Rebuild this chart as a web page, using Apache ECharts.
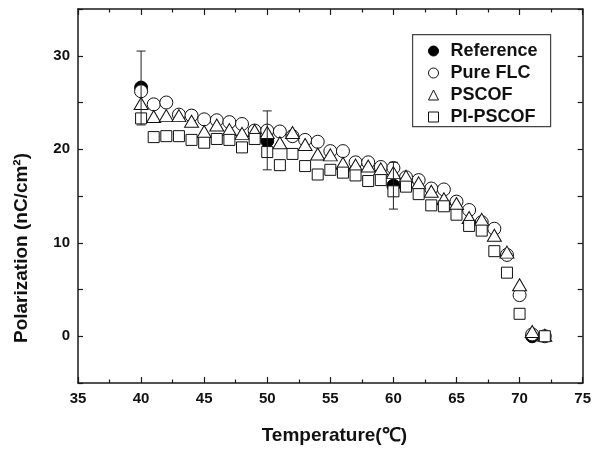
<!DOCTYPE html>
<html>
<head>
<meta charset="utf-8">
<script src="https://cdn.jsdelivr.net/npm/echarts@6/dist/echarts.min.js"></script>
<style>html,body{margin:0;padding:0;background:#fff}#c{width:594px;height:450px}</style>
</head>
<body>
<div id="c"></div>
<script>
const temps = [40,41,42,43,44,45,46,47,48,49,50,51,52,53,54,55,56,57,58,59,60,61,62,63,64,65,66,67,68,69,70,71,72];
const pureFLC = [26.2,24.8,25.0,23.7,23.6,23.2,23.1,22.9,22.7,22.0,22.0,21.9,21.4,21.0,20.8,19.8,19.8,18.6,18.6,18.1,18.0,17.0,16.7,15.8,15.7,14.4,13.5,12.2,11.5,8.7,4.4,0.2,0.0];
const pscof = [24.9,23.5,23.6,23.6,23.0,21.9,22.6,22.1,21.7,22.0,21.8,20.7,21.8,20.5,19.5,19.4,18.5,18.3,18.2,17.9,17.5,17.1,16.4,15.5,14.7,14.2,12.7,12.5,10.8,9.0,5.5,0.5,0.1];
const piPscof = [23.3,21.3,21.4,21.4,21.0,20.7,21.1,21.0,20.2,21.1,19.7,18.3,19.5,18.2,17.3,17.8,17.5,17.2,16.6,16.7,15.5,16.0,15.2,14.0,13.9,13.0,11.8,11.3,9.1,6.8,2.4,null,0.0];
const refTemps = [40,50,60,71];
const refValues = [26.6,20.9,16.1,0.0];
const refLow = [22.6,17.8,13.6,null];
const refHigh = [30.5,24.1,18.6,null];
const xTicks = [35,40,45,50,55,60,65,70,75];
const yTicks = [0,10,20,30];
const yTitle = 'Polarization (nC/cm²)';
const xTitle = 'Temperature(℃)';

const pair = (xs, ys) => xs.map((x, i) => [x, ys[i]]).filter(p => p[1] !== null);
const errData = refTemps.map((t, i) => [t, refLow[i], refHigh[i]]).filter(d => d[1] !== null);

const font = 'Liberation Sans, Arial, sans-serif';
const lineCol = '#1a1a1a';
const hollow = {color: '#fff', borderColor: '#111', borderWidth: 1, opacity: 1};

const chart = echarts.init(document.getElementById('c'), null, {renderer: 'canvas'});
const baseX = {
  type: 'value', min: 35, max: 75, interval: 5,
  axisLine: {onZero: false, lineStyle: {color: lineCol, width: 1.5}},
  axisTick: {inside: true, length: 6, lineStyle: {color: lineCol, width: 1.2}},
  minorTick: {show: true, splitNumber: 2, length: 3.5, lineStyle: {color: lineCol, width: 1.2}},
  splitLine: {show: false}
};
const baseY = {
  type: 'value', min: -5, max: 35, interval: 5,
  axisLine: {onZero: false, lineStyle: {color: lineCol, width: 1.5}},
  axisTick: {inside: true, length: 5, lineStyle: {color: lineCol, width: 1.2}},
  splitLine: {show: false}
};
chart.setOption({
  animation: false,
  backgroundColor: '#fff',
  grid: {left: 78, right: 9, top: 9, bottom: 66, containLabel: false},
  xAxis: [
    Object.assign({}, baseX, {
      position: 'bottom',
      name: xTitle, nameLocation: 'middle', nameGap: 43,
      nameTextStyle: {fontFamily: font, fontWeight: 'bold', fontSize: 19, color: '#111', padding: [0, 0, 0, 8]},
      axisLabel: {margin: 8, fontFamily: font, fontWeight: 'bold', fontSize: 15, color: '#111',
        formatter: v => xTicks.includes(v) ? String(v) : ''}
    }),
    Object.assign({}, baseX, {position: 'top', axisLabel: {show: false}})
  ],
  yAxis: [
    Object.assign({}, baseY, {
      position: 'left',
      axisLabel: {margin: 8, fontFamily: font, fontWeight: 'bold', fontSize: 15, color: '#111',
        formatter: v => yTicks.includes(v) ? String(v) : ''}
    }),
    Object.assign({}, baseY, {position: 'right', axisLabel: {show: false}})
  ],
  legend: {
    orient: 'vertical', left: 428, top: 42, padding: 0,
    itemWidth: 10, itemHeight: 10, itemGap: 4,
    itemStyle: {borderWidth: 1},
    textStyle: {fontFamily: font, fontWeight: 'bold', fontSize: 18, color: '#111', padding: [0, 0, 0, 7]},
    data: ['Reference', 'Pure FLC', 'PSCOF', 'PI-PSCOF']
  },
  graphic: [{
    type: 'rect', left: 412, top: 34, z: 0,
    shape: {width: 138, height: 92},
    style: {fill: '#fff', stroke: '#444', lineWidth: 1.2}
  }, {
    type: 'text', x: 22, y: 248, rotation: Math.PI / 2, z: 10,
    style: {text: yTitle, fontFamily: font, fontWeight: 'bold', fontSize: 19, fill: '#111',
      textAlign: 'center', textVerticalAlign: 'middle'}
  }],
  series: [
    {name: 'Reference', type: 'scatter', symbol: 'circle', symbolSize: 13, z: 2,
     itemStyle: {color: '#000', borderColor: '#000', borderWidth: 1, opacity: 1}, data: pair(refTemps, refValues)},
    {name: 'Pure FLC', type: 'scatter', symbol: 'circle', symbolSize: 13, z: 3,
     itemStyle: hollow, data: pair(temps, pureFLC)},
    {name: 'PSCOF', type: 'scatter', symbol: 'triangle', symbolSize: [14, 12], z: 4,
     itemStyle: hollow, data: pair(temps, pscof)},
    {name: 'PI-PSCOF', type: 'scatter', symbol: 'rect', symbolSize: 11, z: 5,
     itemStyle: hollow, data: pair(temps, piPscof)},
    {name: 'err', type: 'custom', z: 6, silent: true,
     renderItem: (params, api) => {
       const lo = api.coord([api.value(0), api.value(1)]);
       const hi = api.coord([api.value(0), api.value(2)]);
       const hw = 4.5;
       const st = {stroke: '#222', lineWidth: 1};
       return {type: 'group', children: [
         {type: 'line', shape: {x1: lo[0], y1: lo[1], x2: hi[0], y2: hi[1]}, style: st},
         {type: 'line', shape: {x1: lo[0] - hw, y1: lo[1], x2: lo[0] + hw, y2: lo[1]}, style: st},
         {type: 'line', shape: {x1: hi[0] - hw, y1: hi[1], x2: hi[0] + hw, y2: hi[1]}, style: st}
       ]};
     },
     encode: {x: 0, y: [1, 2]}, data: errData}
  ]
});
</script>
</body>
</html>
